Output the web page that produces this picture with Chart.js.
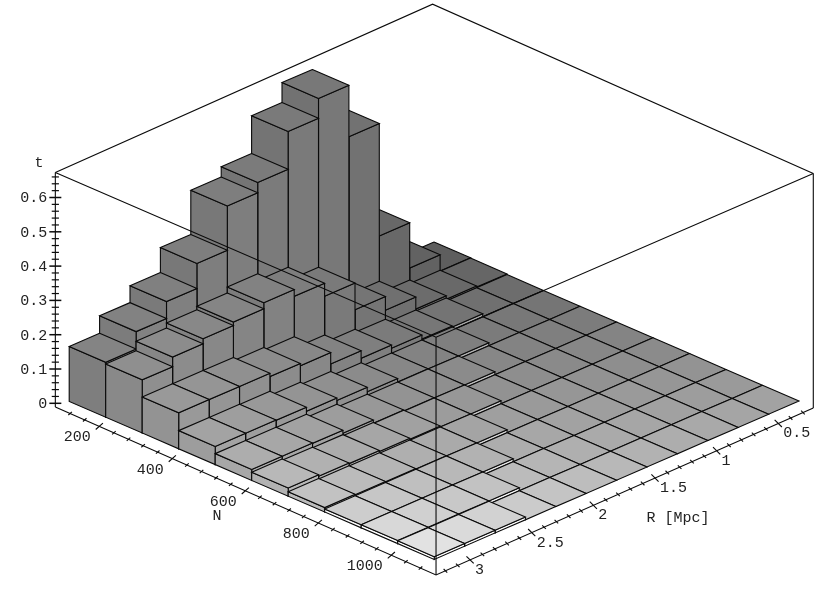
<!DOCTYPE html>
<html>
<head>
<meta charset="utf-8">
<style>
  html, body { margin: 0; padding: 0; background: #fff; }
  canvas { display: block; filter: blur(0.45px); }
</style>
<script src="https://cdn.jsdelivr.net/npm/chart.js@4"></script>
</head>
<body>
<canvas id="chart" width="830" height="593"></canvas>
<script>
// t per bin, one array per N bin, R bins run from small R (back) to large R (front)
const t_n0 = [0.003, 0.05, 0.182, 0.51, 0.66, 0.602, 0.492, 0.462, 0.333, 0.26, 0.211, 0.16];
const t_n1 = [0.002, 0.005, 0.015, 0.05, 0.09, 0.168, 0.206, 0.226, 0.208, 0.198, 0.183, 0.155];
const t_n2 = [0, 0, 0.009, 0.012, 0.024, 0.033, 0.055, 0.088, 0.095, 0.105, 0.105, 0.105];
const t_n3 = [0, 0, 0, 0.009, 0.009, 0.01, 0.02, 0.033, 0.04, 0.052, 0.053, 0.053];
const t_n4 = [0, 0, 0, 0, 0.009, 0.009, 0.01, 0.013, 0.022, 0.031, 0.032, 0.032];
const t_n5 = [0, 0, 0, 0, 0, 0.009, 0.009, 0.012, 0.015, 0.018, 0.02, 0.024];
const t_n6 = [0, 0, 0, 0, 0, 0, 0.009, 0.009, 0.01, 0.011, 0.012, 0.013];
const t_n7 = [0, 0, 0, 0, 0, 0, 0, 0.009, 0.009, 0.009, 0.009, 0.009];
const t_n8 = [0, 0, 0, 0, 0, 0, 0, 0, 0.009, 0.009, 0.009, 0.009];
const t_n9 = [0, 0, 0, 0, 0, 0, 0, 0, 0, 0.008, 0.008, 0.008];
const grid = [t_n0, t_n1, t_n2, t_n3, t_n4, t_n5, t_n6, t_n7, t_n8, t_n9];

const tTicks = ['0', '0.1', '0.2', '0.3', '0.4', '0.5', '0.6'];
const nTicks = ['200', '400', '600', '800', '1000'];
const rTicks = ['0.5', '1', '1.5', '2', '2.5', '3'];

// view of the box, in bins and picture pixels. The source plot has a touch of
// perspective, frontDrop and backLift stretch the two middle corners to follow it
const view = {
  origin: [434, 243], nStep: [36.5, 15.8], rStep: [-30.4, 13.2], tPx: 343,
  nMin: -0.13, nMax: 10.3, rMin: -0.11, rMax: 12.3, tMin: -0.0105, tMax: 0.673,
  frontDrop: 0.0095, backLift: 0.013
};
const project = (n, r, t) => ({
  x: view.origin[0] + n * view.nStep[0] + r * view.rStep[0],
  y: view.origin[1] + n * view.nStep[1] + r * view.rStep[1] - t * view.tPx
});
const binOfN = N => (N - 92.5) / 100;
const binOfR = R => 4.055 * R - 0.985;

const gray = v => {
  const c = Math.min(255, Math.round(v));
  return `rgb(${c},${c},${c})`;
};
const topShade = (n, r, t) => 94 + 7.5 * n + 3.2 * r + 0.027 * n * r * r + 20 * t;

const face = (points, shade) => ({
  data: [...points, points[0]],
  showLine: true,
  fill: 'shape',
  backgroundColor: gray(shade),
  borderColor: '#0a0a0a',
  borderWidth: 1.1,
  pointRadius: 0,
  tension: 0
});
const line = (points, width = 1.1) => ({
  data: points,
  showLine: true,
  fill: false,
  borderColor: '#0a0a0a',
  borderWidth: width,
  pointRadius: 0,
  tension: 0
});

const datasets = [];
const { nMin, nMax, rMin, rMax, tMin, tMax, frontDrop, backLift } = view;

// box edges behind the bars
const backTop = project(nMin, rMin, tMax + backLift);
datasets.push(line([project(nMin, rMax, tMax), backTop, project(nMax, rMin, tMax)]));

// bars, back to front
grid.forEach((row, n) => {
  row.forEach((t, r) => {
    const shade = topShade(n, r, t);
    if (t > 0) {
      const lift = t < 0.012 ? 50 : 0; // the thin steps catch the light
      datasets.push(face([project(n + 1, r, t), project(n + 1, r + 1, t), project(n + 1, r + 1, 0), project(n + 1, r, 0)], shade + lift));
      datasets.push(face([project(n, r + 1, t), project(n + 1, r + 1, t), project(n + 1, r + 1, 0), project(n, r + 1, 0)], shade - 6 + lift));
    }
    datasets.push(face([project(n, r, t), project(n + 1, r, t), project(n + 1, r + 1, t), project(n, r + 1, t)], shade));
  });
});

// axis floor sinks a little towards the front corner
const nFloor = n => project(n, rMax, tMin - frontDrop * (n - nMin) / (nMax - nMin));
const rFloor = r => project(nMax, r, tMin - frontDrop * (r - rMin) / (rMax - rMin));

// box edges in front of the bars
datasets.push(line([project(nMin, rMax, tMax), project(nMax, rMax, tMax), project(nMax, rMin, tMax)]));
datasets.push(line([project(nMin, rMax, tMin), project(nMin, rMax, tMax)]));
datasets.push(line([project(nMax, rMin, tMin), project(nMax, rMin, tMax)]));
datasets.push(line([nFloor(nMax), project(nMax, rMax, tMax)]));
datasets.push(line([nFloor(nMin), nFloor(nMax), rFloor(rMin)]));

// ticks
const offset = (p, dx, dy) => ({ x: p.x + dx, y: p.y + dy });
for (let t = 0; t < 0.67; t += 0.02) {
  const major = Math.round(t * 50) % 5 === 0;
  const p = project(nMin, rMax, t);
  const half = major ? 6 : 3.6;
  datasets.push(line([offset(p, -half, 0), offset(p, half, 0)], major ? 1.5 : 1.2));
}
for (let N = 120; N <= 1080; N += 40) {
  const major = N % 200 === 0;
  const p = nFloor(binOfN(N));
  const k = major ? 1 : 0.5;
  datasets.push(line([offset(p, -3.6 * k, 3.2 * k), offset(p, 3.6 * k, -3.2 * k)]));
}
for (let i = 3; i <= 32; i++) {
  const major = i % 5 === 0;
  const p = rFloor(binOfR(i / 10));
  const k = major ? 1 : 0.5;
  datasets.push(line([offset(p, -3.6 * k, -3.6 * k), offset(p, 3.6 * k, 3.6 * k)]));
}

// Chart.js paints the first dataset last
datasets.reverse();

const axisText = {
  id: 'axisText',
  afterDraw(chart) {
    const { ctx, scales: { x, y } } = chart;
    const put = (label, px, py, align) => {
      ctx.textAlign = align;
      ctx.fillText(label, x.getPixelForValue(px), y.getPixelForValue(py));
    };
    ctx.save();
    ctx.font = '15px "Liberation Mono", monospace';
    ctx.fillStyle = '#222';
    ctx.textBaseline = 'middle';
    tTicks.forEach(label => {
      const p = project(nMin, rMax, Number(label));
      put(label, p.x - 8, p.y + 1, 'right');
    });
    nTicks.forEach(label => {
      const p = nFloor(binOfN(Number(label)));
      put(label, p.x - 8.5, p.y + 11, 'right');
    });
    rTicks.forEach(label => {
      const p = rFloor(binOfR(Number(label)));
      put(label, p.x + 5, p.y + 10, 'left');
    });
    put('t', 39, 163, 'center');
    put('N', 217, 516, 'center');
    put('R [Mpc]', 678, 518, 'center');
    ctx.restore();
  }
};

new Chart(document.getElementById('chart'), {
  type: 'scatter',
  data: { datasets },
  options: {
    responsive: false,
    animation: false,
    layout: { padding: 0 },
    plugins: { legend: { display: false }, tooltip: { enabled: false } },
    scales: {
      x: { type: 'linear', min: 0, max: 830, display: false },
      y: { type: 'linear', min: 0, max: 593, reverse: true, display: false }
    }
  },
  plugins: [axisText]
});
</script>
</body>
</html>
